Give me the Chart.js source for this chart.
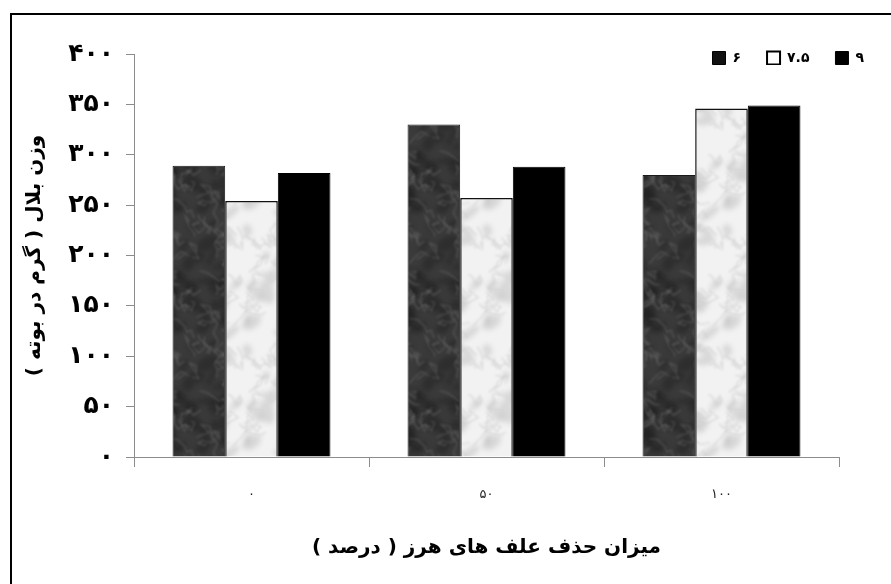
<!DOCTYPE html>
<html lang="fa">
<head>
<meta charset="utf-8">
<title>وزن بلال</title>
<script src="https://cdn.jsdelivr.net/npm/chart.js@4.4.1/dist/chart.umd.min.js"></script>
<style>
  html, body { margin: 0; padding: 0; background: #ffffff; }
  #wrap { position: relative; width: 891px; height: 584px; overflow: hidden; }
  canvas { display: block; }
</style>
</head>
<body>
<div id="wrap"><canvas id="chart" width="891" height="584"></canvas></div>
<script>
// Weed-removal levels (percent) on the category axis
const categories = ['۰', '۵۰', '۱۰۰'];
// Series names shown in the legend
const seriesNames = ['۶', '۷.۵', '۹'];
// Ear weight (g per plant) for each series
const series6 = [289, 330, 280];
const series75 = [254, 257, 346];
const series9 = [282, 288, 349];
// Y tick labels, 0 to 400 step 50
const yTickLabels = ['۰', '۵۰', '۱۰۰', '۱۵۰', '۲۰۰', '۲۵۰', '۳۰۰', '۳۵۰', '۴۰۰'];

const RLM = '\u200F';
const FONT = "'DejaVu Sans', 'Noto Sans', sans-serif";

// Marble-like fill, built from a seeded generator so it is the same every run.
// Every shape is also drawn at the wrapped offsets so the tile repeats seamlessly.
function marble(opts) {
  const size = 120;
  const c = document.createElement('canvas');
  c.width = size; c.height = size;
  const g = c.getContext('2d');
  g.fillStyle = opts.base;
  g.fillRect(0, 0, size, size);
  let s = opts.seed;
  const rnd = () => (s = (s * 16807) % 2147483647) / 2147483647;
  const offsets = [];
  for (const dx of [-size, 0, size]) for (const dy of [-size, 0, size]) offsets.push([dx, dy]);

  g.filter = 'blur(2.5px)';
  for (let i = 0; i < opts.blots; i++) {
    const x = rnd() * size, y = rnd() * size;
    const rx = 3 + rnd() * 10, ry = 2 + rnd() * 6, rot = rnd() * 3;
    g.globalAlpha = opts.blotAlpha;
    g.fillStyle = opts.blot;
    for (const [dx, dy] of offsets) {
      g.beginPath();
      g.ellipse(x + dx, y + dy, rx, ry, rot, 0, Math.PI * 2);
      g.fill();
    }
  }
  g.filter = 'blur(1px)';
  g.strokeStyle = opts.vein;
  g.lineWidth = 1.3;
  for (let i = 0; i < opts.veins; i++) {
    const pts = [[rnd() * size, rnd() * size]];
    for (let k = 0; k < 5; k++) {
      const [px, py] = pts[pts.length - 1];
      pts.push([px + (rnd() - 0.5) * 18, py + (rnd() - 0.5) * 18]);
    }
    g.globalAlpha = opts.veinAlpha;
    for (const [dx, dy] of offsets) {
      g.beginPath();
      g.moveTo(pts[0][0] + dx, pts[0][1] + dy);
      for (let k = 1; k < pts.length; k++) g.lineTo(pts[k][0] + dx, pts[k][1] + dy);
      g.stroke();
    }
  }
  g.filter = 'none';
  g.globalAlpha = 1;
  return g.createPattern(c, 'repeat');
}

const darkMarble = marble({ base: '#3a3a3a', blot: '#1c1c1c', vein: '#7a7a7a', seed: 12345, blots: 70, blotAlpha: 0.4, veins: 70, veinAlpha: 0.4 });
const lightMarble = marble({ base: '#f2f2f2', blot: '#a8a8a8', vein: '#cccccc', seed: 67891, blots: 45, blotAlpha: 0.35, veins: 35, veinAlpha: 0.6 });

// Legend swatch colours (the textures read as flat at this size)
const swatchFill = ['#111111', '#ffffff', '#000000'];

// Frame line along the top and left edges of the figure
const framePlugin = {
  id: 'frame',
  afterDraw(chart) {
    const ctx = chart.ctx;
    ctx.save();
    ctx.strokeStyle = '#000000';
    ctx.lineWidth = 2;
    ctx.beginPath();
    ctx.moveTo(11, chart.height);
    ctx.lineTo(11, 14);
    ctx.lineTo(chart.width, 14);
    ctx.stroke();
    ctx.restore();
  }
};

// Legend sits at the top right, level with the top of the plot
const legendPlace = {
  id: 'legendPlace',
  beforeDraw(chart) {
    const lg = chart.legend;
    if (!lg) return;
    const pad = lg.options.labels.padding;
    lg.top = 58 - pad - 7;
    lg.bottom = lg.top + 40;
    lg.right = 864 + pad;
    lg.left = 400;
  }
};

new Chart(document.getElementById('chart'), {
  type: 'bar',
  data: {
    labels: categories,
    datasets: [
      { label: seriesNames[0], data: series6, backgroundColor: darkMarble, borderColor: '#1a1a1a', borderWidth: 1 },
      { label: seriesNames[1], data: series75, backgroundColor: lightMarble, borderColor: '#111111', borderWidth: 1.5 },
      { label: seriesNames[2], data: series9, backgroundColor: '#000000', borderColor: '#000000', borderWidth: 1 }
    ]
  },
  options: {
    responsive: false,
    animation: false,
    devicePixelRatio: 1,
    layout: { padding: { top: 53, right: 52, bottom: 0, left: 0 } },
    datasets: { bar: { categoryPercentage: 0.672, barPercentage: 1.0 } },
    plugins: {
      tooltip: { enabled: false },
      legend: {
        position: 'top',
        align: 'end',
        maxHeight: 1,
        labels: {
          color: '#000000',
          font: { family: FONT, size: 14, weight: 'bold' },
          boxWidth: 13,
          boxHeight: 13,
          padding: 26,
          generateLabels(chart) {
            return chart.data.datasets.map((ds, i) => ({
              text: ds.label,
              fillStyle: swatchFill[i],
              strokeStyle: '#000000',
              lineWidth: i === 1 ? 2 : 1,
              fontColor: '#000000',
              hidden: false,
              datasetIndex: i
            }));
          }
        }
      }
    },
    scales: {
      x: {
        afterFit(scale) { scale.height = 127; },
        grid: { display: true, drawOnChartArea: false, offset: true, tickLength: 10, color: '#8c8c8c', lineWidth: 1 },
        border: { display: true, color: '#8c8c8c', width: 1 },
        ticks: { color: '#222222', padding: 20, font: { family: FONT, size: 13 } },
        title: {
          display: true,
          text: RLM + 'میزان حذف علف های هرز ( درصد )' + RLM,
          color: '#000000',
          font: { family: FONT, size: 20, weight: 'bold', lineHeight: 1.2 },
          padding: { top: 0, bottom: 24 }
        }
      },
      y: {
        min: 0,
        max: 400,
        afterFit(scale) { scale.width = 134; },
        grid: { display: true, drawOnChartArea: false, tickLength: 8, color: '#8c8c8c', lineWidth: 1 },
        border: { display: true, color: '#8c8c8c', width: 1 },
        ticks: {
          stepSize: 50,
          color: '#000000',
          padding: 12,
          font: { family: FONT, size: 25, weight: 'bold' },
          callback: (value, index) => yTickLabels[index]
        },
        title: {
          display: true,
          text: RLM + 'وزن بلال ( گرم در بوته )' + RLM,
          color: '#000000',
          font: { family: FONT, size: 20, weight: 'bold', lineHeight: 1.2 },
          padding: { top: 23, bottom: 0 }
        }
      }
    }
  },
  plugins: [legendPlace, framePlugin]
});
</script>
</body>
</html>
